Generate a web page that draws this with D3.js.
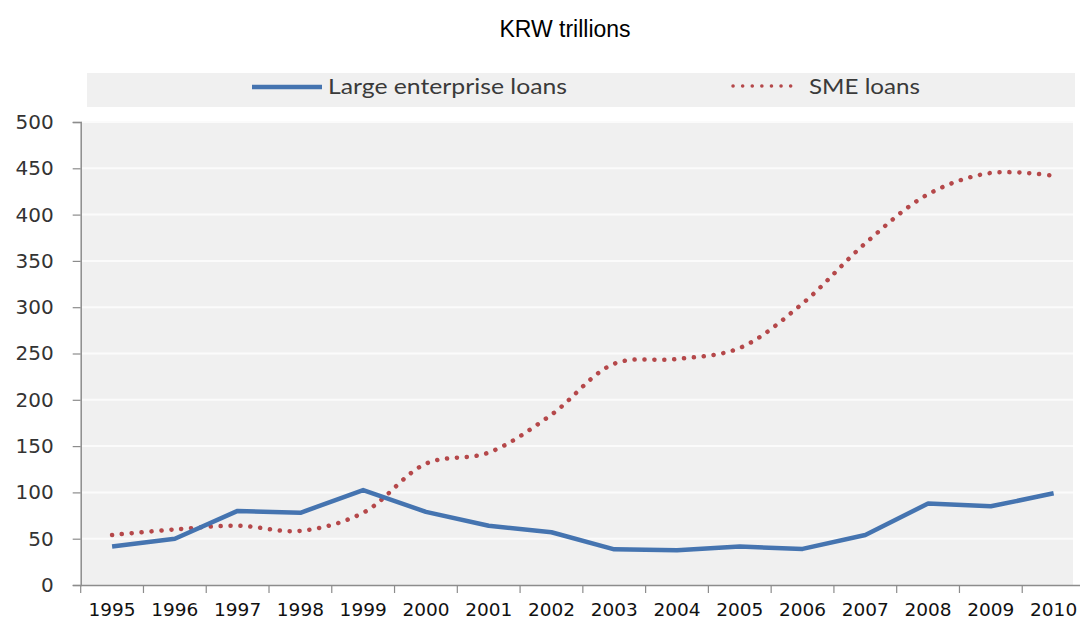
<!DOCTYPE html>
<html><head><meta charset="utf-8">
<script src="https://cdn.jsdelivr.net/npm/d3@7"></script>
<style>body{margin:0;background:#fff}svg{display:block}</style>
</head><body><svg id="c" width="1080" height="625"></svg>
<script>
const years = ["1995","1996","1997","1998","1999","2000","2001","2002","2003","2004","2005","2006","2007","2008","2009","2010"];
const largeLoans = [41.5,50,80,78,102.5,79,64,57,38.5,37.5,41.5,39,54,88,85,99];
const smeLoans = [54,60,64,58.5,78,131,143,184,239,244,256,304,369,422,445,442];
const yTicks = [0,50,100,150,200,250,300,350,400,450,500];
const seriesNames = ["Large enterprise loans","SME loans"];
const title = "KRW trillions";

const svg = d3.select("#c");
const x = d3.scaleBand().domain(years).range([80.7, 1085]);
const y = d3.scaleLinear().domain([0,500]).range([585, 122]);
const plotRight = 1073;

svg.append("text").attr("x",565).attr("y",37).attr("text-anchor","middle")
  .attr("font-family","Liberation Sans, Arial, sans-serif").attr("font-size",23).attr("fill","#000").text(title);

// legend box
svg.append("rect").attr("x",87).attr("y",73).attr("width",plotRight+2-87).attr("height",34).attr("fill","#f0f0f0");
// plot background
svg.append("rect").attr("x",81).attr("y",121).attr("width",plotRight-81).attr("height",585-121).attr("fill","#f0f0f0");
// grid
svg.append("g").selectAll("line").data(yTicks.filter(d=>d>0)).join("line")
  .attr("x1",82).attr("x2",plotRight).attr("y1",d=>y(d)).attr("y2",d=>y(d))
  .attr("stroke","#fbfbfb").attr("stroke-width",2);

// y axis
const ya = svg.append("g").attr("transform","translate(80.7,0)")
  .call(d3.axisLeft(y).tickValues(yTicks).tickSize(8).tickPadding(6).tickFormat(d3.format("d")));
ya.select(".domain").attr("stroke","#8c8c8c").attr("stroke-width",1.5);
ya.selectAll(".tick line").attr("stroke","#8c8c8c").attr("stroke-width",1.2);
ya.selectAll("text").attr("font-family","DejaVu Sans, Verdana, sans-serif").attr("font-size",20).attr("fill","#333").attr("dx",-13);

// x axis
const xa = svg.append("g").attr("transform","translate(0,585)")
  .call(d3.axisBottom(x).tickSize(0).tickPadding(18));
xa.select(".domain").attr("stroke","#8c8c8c").attr("stroke-width",1.5);
xa.selectAll("text").attr("font-family","DejaVu Sans, Verdana, sans-serif").attr("font-size",18.5).attr("fill","#111");
xa.append("g").selectAll("line").data(years).join("line")
  .attr("x1",d=>x(d)).attr("x2",d=>x(d)).attr("y1",0).attr("y2",8)
  .attr("stroke","#8c8c8c").attr("stroke-width",1.2);

const cx = d => x(d) + x.bandwidth()/2;
const lineBlue = d3.line().x((d,i)=>cx(years[i])).y(d=>y(d));
const lineRed = d3.line().x((d,i)=>cx(years[i])).y(d=>y(d)).curve(d3.curveCatmullRom.alpha(0.5));

svg.append("path").datum(smeLoans).attr("d",lineRed).attr("fill","none")
  .attr("stroke","#b5484a").attr("stroke-width",4.5).attr("stroke-linecap","round").attr("stroke-dasharray","0.1 9.8");
svg.append("path").datum(largeLoans).attr("d",lineBlue).attr("fill","none")
  .attr("stroke","#4574b0").attr("stroke-width",4.5).attr("stroke-linejoin","round");

// legend
svg.append("line").attr("x1",252).attr("x2",322).attr("y1",87).attr("y2",87)
  .attr("stroke","#4574b0").attr("stroke-width",4.5);
svg.append("text").attr("x",328).attr("y",94).attr("font-family","Lato, sans-serif").attr("font-size",22)
  .attr("fill","#3a3a3a").attr("textLength",239).attr("lengthAdjust","spacingAndGlyphs").text(seriesNames[0]);
svg.append("line").attr("x1",733).attr("x2",800).attr("y1",86).attr("y2",86)
  .attr("stroke","#b5484a").attr("stroke-width",3.5).attr("stroke-linecap","round").attr("stroke-dasharray","0.1 9.5");
svg.append("text").attr("x",809).attr("y",94).attr("font-family","Lato, sans-serif").attr("font-size",22)
  .attr("fill","#3a3a3a").attr("textLength",111).attr("lengthAdjust","spacingAndGlyphs").text(seriesNames[1]);
</script></body></html>
